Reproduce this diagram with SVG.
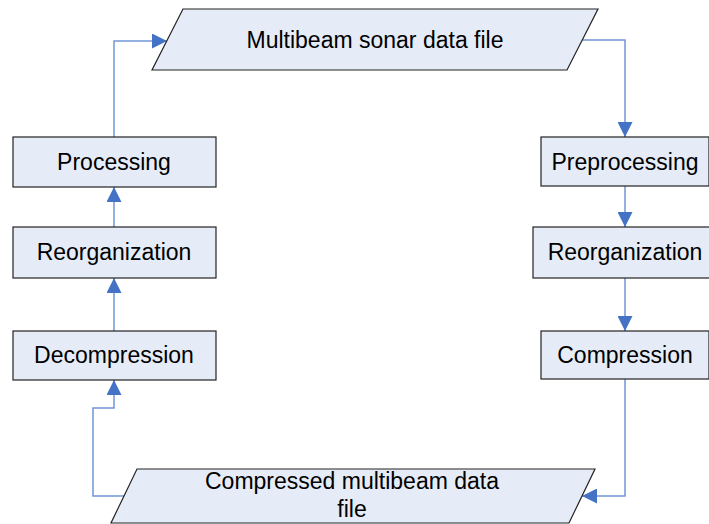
<svg xmlns="http://www.w3.org/2000/svg" width="709" height="524" viewBox="0 0 709 524">
<defs>
<style>
.n{fill:#E6ECF7;stroke:#222;stroke-width:1.2}
.t{font-family:"Liberation Sans",Arial,sans-serif;font-size:23px;fill:#000;text-anchor:middle}
.c{fill:none;stroke:#7096D6;stroke-width:1.5}
</style>
<marker id="a" viewBox="0 0 10 10" refX="10" refY="5" markerWidth="15" markerHeight="15" markerUnits="userSpaceOnUse" orient="auto">
<path d="M0,0 L10,5 L0,10 Z" fill="#4472C4"/>
</marker>
</defs>
<rect width="709" height="524" fill="#fff"/>
<g id="connectors">
<path class="c" d="M114,137 V41 H167" marker-end="url(#a)"/>
<path class="c" d="M581,40 H625 V137" marker-end="url(#a)"/>
<path class="c" d="M625,186 V227" marker-end="url(#a)"/>
<path class="c" d="M625,278 V331" marker-end="url(#a)"/>
<path class="c" d="M625,379 V496 H582" marker-end="url(#a)"/>
<path class="c" d="M124,496 H93 V408 H114 V380" marker-end="url(#a)"/>
<path class="c" d="M114,331 V278" marker-end="url(#a)"/>
<path class="c" d="M114,227 V187" marker-end="url(#a)"/>
</g>
<g id="sonar-file">
<polygon class="n" points="183,9 598,9 567,70 152,70"/>
<text class="t" x="375" y="48">Multibeam sonar data file</text>
</g>
<g id="preprocessing">
<rect class="n" x="541" y="137" width="168" height="49"/>
<text class="t" x="625" y="170">Preprocessing</text>
</g>
<g id="reorganization-r">
<rect class="n" x="533" y="227" width="184" height="51"/>
<text class="t" x="625" y="260">Reorganization</text>
</g>
<g id="compression">
<rect class="n" x="541" y="331" width="168" height="48"/>
<text class="t" x="625" y="363">Compression</text>
</g>
<g id="compressed-file">
<polygon class="n" points="137,469 595,469 569,523 111,523"/>
<text class="t" x="352" y="489">Compressed multibeam data</text>
<text class="t" x="352" y="517">file</text>
</g>
<g id="processing">
<rect class="n" x="13" y="137" width="203" height="50"/>
<text class="t" x="114" y="170">Processing</text>
</g>
<g id="reorganization-l">
<rect class="n" x="13" y="227" width="203" height="51"/>
<text class="t" x="114" y="260">Reorganization</text>
</g>
<g id="decompression">
<rect class="n" x="13" y="331" width="203" height="49"/>
<text class="t" x="114" y="363">Decompression</text>
</g>
</svg>
